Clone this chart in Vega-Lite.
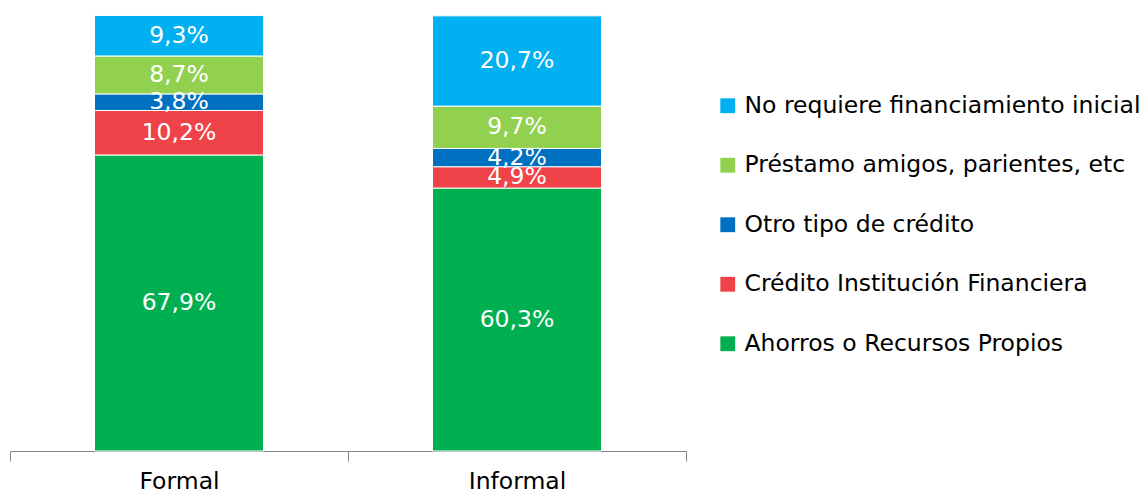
{
  "$schema": "https://vega.github.io/schema/vega-lite/v6.json",
  "autosize": "none",
  "width": 676,
  "height": 436,
  "padding": {"left": 10, "top": 15, "right": 461, "bottom": 42},
  "background": "white",
  "config": {
    "view": {"stroke": null},
    "font": "DejaVu Sans",
    "locale": {"number": {"decimal": ",", "thousands": ".", "grouping": [3], "currency": ["", " €"]}}
  },
  "data": {
    "values": [
      {"tipo": "Formal", "fuente": "Ahorros o Recursos Propios", "orden": 1, "valor": 67.9},
      {"tipo": "Formal", "fuente": "Crédito Institución Financiera", "orden": 2, "valor": 10.2},
      {"tipo": "Formal", "fuente": "Otro tipo de crédito", "orden": 3, "valor": 3.8},
      {"tipo": "Formal", "fuente": "Préstamo amigos, parientes, etc", "orden": 4, "valor": 8.7},
      {"tipo": "Formal", "fuente": "No requiere financiamiento inicial", "orden": 5, "valor": 9.3},
      {"tipo": "Informal", "fuente": "Ahorros o Recursos Propios", "orden": 1, "valor": 60.3},
      {"tipo": "Informal", "fuente": "Crédito Institución Financiera", "orden": 2, "valor": 4.9},
      {"tipo": "Informal", "fuente": "Otro tipo de crédito", "orden": 3, "valor": 4.2},
      {"tipo": "Informal", "fuente": "Préstamo amigos, parientes, etc", "orden": 4, "valor": 9.7},
      {"tipo": "Informal", "fuente": "No requiere financiamiento inicial", "orden": 5, "valor": 20.7}
    ]
  },
  "transform": [
    {"stack": "valor", "groupby": ["tipo"], "sort": [{"field": "orden", "order": "ascending"}], "as": ["v0", "v1"]},
    {"calculate": "(datum.v0 + datum.v1) / 2", "as": "vmid"},
    {"calculate": "datum.valor / 100", "as": "frac"}
  ],
  "encoding": {
    "x": {
      "field": "tipo",
      "type": "nominal",
      "scale": {"paddingInner": 0, "paddingOuter": 0},
      "axis": {
        "title": null,
        "labelAngle": 0,
        "labelFontSize": 23.5,
        "labelColor": "#000000",
        "labelPadding": 8,
        "domainColor": "#868686",
        "tickColor": "#868686",
        "tickSize": 10,
        "tickBand": "extent"
      }
    }
  },
  "layer": [
    {
      "mark": {"type": "bar", "stroke": "white", "strokeWidth": 1, "width": {"band": 0.5}},
      "encoding": {
        "y": {"field": "v0", "type": "quantitative", "scale": {"domain": [0, 100]}, "axis": null},
        "y2": {"field": "v1"},
        "color": {
          "field": "fuente",
          "type": "nominal",
          "scale": {
            "domain": ["No requiere financiamiento inicial", "Préstamo amigos, parientes, etc", "Otro tipo de crédito", "Crédito Institución Financiera", "Ahorros o Recursos Propios"],
            "range": ["#00B0F0", "#92D050", "#0070C0", "#F04349", "#00B050"]
          },
          "legend": {
            "title": null,
            "orient": "none",
            "legendX": 706,
            "legendY": 79,
            "padding": 0,
            "symbolType": "square",
            "symbolSize": 220,
            "symbolStrokeWidth": 0,
            "labelFontSize": 23.5,
            "labelColor": "#000000",
            "labelOffset": 5,
            "rowPadding": 34.5,
            "labelLimit": 500
          }
        }
      }
    },
    {
      "mark": {"type": "text", "color": "white", "fontSize": 23.5},
      "encoding": {
        "y": {"field": "vmid", "type": "quantitative"},
        "text": {"field": "frac", "type": "quantitative", "format": ".1%"}
      }
    }
  ]
}
